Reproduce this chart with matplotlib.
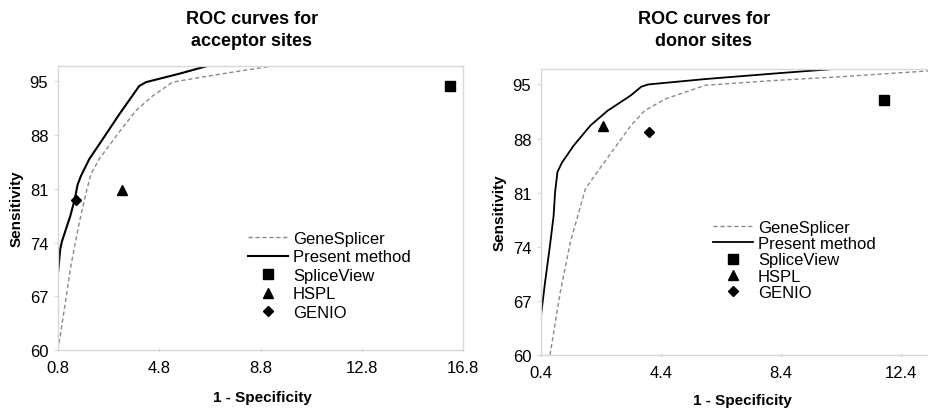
import matplotlib.pyplot as plt
from matplotlib.ticker import FixedLocator

plt.rcParams['font.family'] = ['Liberation Sans', 'DejaVu Sans']

# acceptor sites
acc_gs_x = [0.8, 1.05, 1.31, 1.64, 1.91, 2.1, 2.43, 3.22, 3.88, 4.54, 5.33, 6.39, 7.7, 9.28]
acc_gs_y = [60, 65.3, 71, 76.6, 80.5, 82.9, 84.9, 88.4, 91.2, 93.1, 94.9, 95.5, 96.2, 97.0]
acc_pm_x = [0.8, 0.89, 0.96, 1.29, 1.45, 1.58, 1.71, 2.04, 2.43, 3.22, 4.01, 4.28, 5.6, 6.7]
acc_pm_y = [70, 73.2, 74.2, 77.5, 79.5, 81.6, 82.7, 84.9, 86.8, 90.7, 94.4, 94.9, 96.0, 97.0]
acc_points = {"SpliceView": (16.27, 94.4), "HSPL": (3.32, 80.8), "GENIO": (1.5, 79.6)}
acc_xticks = [0.8, 4.8, 8.8, 12.8, 16.8]

# donor sites
don_gs_x = [0.7, 1.04, 1.38, 1.72, 1.88, 2.28, 2.84, 3.4, 3.85, 4.53, 5.88, 8.13, 10.38, 13.5]
don_gs_y = [60, 68.1, 74.6, 79.3, 81.5, 83.7, 86.7, 89.7, 91.6, 93.1, 94.9, 95.5, 96.0, 96.8]
don_pm_x = [0.4, 0.535, 0.7, 0.82, 0.87, 0.95, 1.1, 1.49, 2.05, 2.62, 3.4, 3.74, 3.97, 5.88, 8.13, 10.15]
don_pm_y = [65.1, 69.4, 74.2, 78.0, 81.1, 83.7, 84.9, 87.1, 89.7, 91.6, 93.6, 94.7, 95.0, 95.7, 96.4, 97.0]
don_points = {"SpliceView": (11.82, 93.0), "HSPL": (2.48, 89.6), "GENIO": (3.99, 88.8)}
don_xticks = [0.4, 4.4, 8.4, 12.4]

yticks = [60, 67, 74, 81, 88, 95]
markers = {"SpliceView": "s", "HSPL": "^", "GENIO": "D"}
msize = {"SpliceView": 7.5, "HSPL": 7.5, "GENIO": 5.5}

fig = plt.figure(figsize=(9.29, 4.10), dpi=100)
ax1 = fig.add_axes([58 / 929, 59 / 410, 405 / 929, 284 / 410])
ax2 = fig.add_axes([541 / 929, 54 / 410, 420 / 929, 286 / 410])


def draw(ax, gs_x, gs_y, pm_x, pm_y, points, xticks, xlim, lw):
    ax.plot(gs_x, gs_y, color="#8a8a8a", lw=1.0, ls=(0, (3, 2)), label="GeneSplicer")
    ax.plot(pm_x, pm_y, color="black", lw=lw, label="Present method")
    for name, (x, y) in points.items():
        ax.plot(x, y, ls="none", marker=markers[name], ms=msize[name], color="black", label=name)
    ax.set_xlim(xlim)
    ax.set_ylim(60, 97)
    ax.xaxis.set_major_locator(FixedLocator(xticks))
    ax.yaxis.set_major_locator(FixedLocator(yticks))
    ax.set_xticklabels([f"{t:g}" for t in xticks])
    ax.tick_params(labelsize=12, colors="black", length=3, width=0.8, pad=6)
    ax.tick_params(axis="x", direction="inout", color="#d8d8d8")
    ax.tick_params(axis="y", direction="out", color="#d8d8d8", pad=4)
    for s in ax.spines.values():
        s.set_color("#d8d8d8")
        s.set_linewidth(1.0)
    ax.set_xlabel("1 - Specificity", fontsize=11, fontweight="bold")
    ax.set_ylabel("Sensitivity", fontsize=11, fontweight="bold")


draw(ax1, acc_gs_x, acc_gs_y, acc_pm_x, acc_pm_y, acc_points, acc_xticks, (0.8, 16.8), 1.5)
draw(ax2, don_gs_x, don_gs_y, don_pm_x, don_pm_y, don_points, don_xticks, (0.4, 14.4), 1.3)

ax1.xaxis.set_label_coords((262 - 58) / 405, -0.14)
ax1.yaxis.set_label_coords(-0.086, 0.5)
ax2.xaxis.set_label_coords((742 - 541) / 420, -0.133)
ax2.yaxis.set_label_coords(-0.081, 0.5)

for ax, x0, y0, sp in [(ax1, 248, 232, 0.21), (ax2, 713, 221, 0.07)]:
    ax.legend(loc="upper left", bbox_to_anchor=(x0 / 929, 1 - y0 / 410),
              bbox_transform=fig.transFigure, frameon=False, fontsize=12,
              borderpad=0, borderaxespad=0, handlelength=2.4, handletextpad=0.3,
              labelspacing=sp)

fig.text(252 / 929, 1 - 30.5 / 410, "ROC curves for\nacceptor sites", ha="center", va="center",
         fontsize=13, fontweight="bold", linespacing=1.35)
fig.text(704 / 929, 1 - 30.5 / 410, "ROC curves for\ndonor sites", ha="center", va="center",
         fontsize=13, fontweight="bold", linespacing=1.35)

fig.savefig("out.png", dpi=100)
